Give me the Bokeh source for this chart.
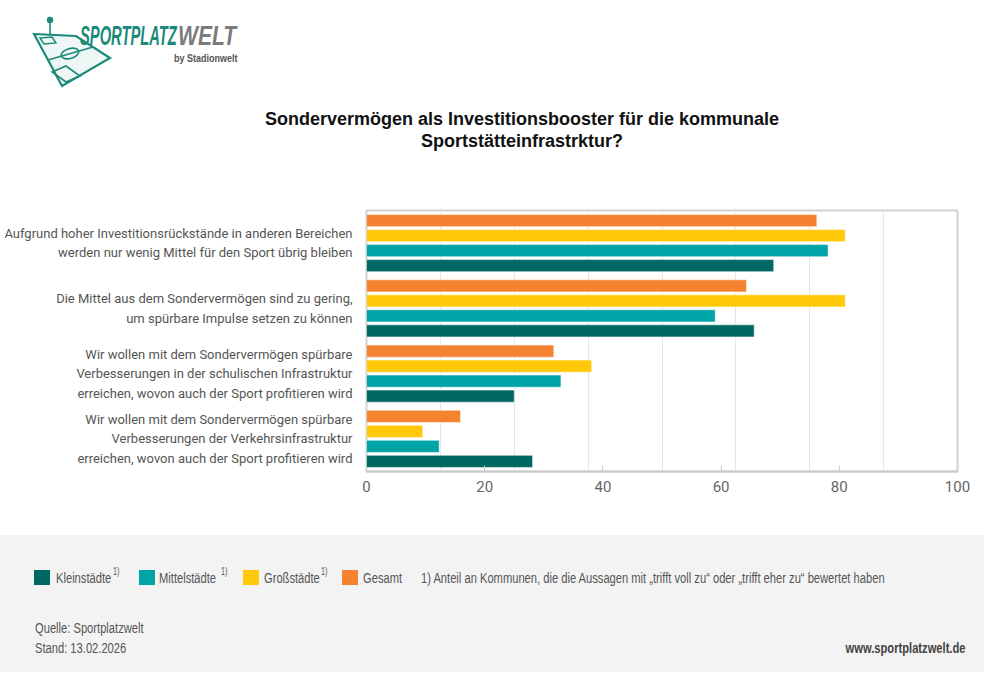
from bokeh.plotting import figure
from bokeh.models import Range1d, FixedTicker, ColumnDataSource, Div
from bokeh.layouts import column
from bokeh.transform import dodge
from bokeh.embed import file_html
from bokeh.resources import INLINE

# ---------------- data ----------------
categories = [
    "Aufgrund hoher Investitionsrückstände in anderen Bereichen\nwerden nur wenig Mittel für den Sport übrig bleiben",
    "Die Mittel aus dem Sondervermögen sind zu gering,\num spürbare Impulse setzen zu können",
    "Wir wollen mit dem Sondervermögen spürbare\nVerbesserungen in der schulischen Infrastruktur\nerreichen, wovon auch der Sport profitieren wird",
    "Wir wollen mit dem Sondervermögen spürbare\nVerbesserungen der Verkehrsinfrastruktur\nerreichen, wovon auch der Sport profitieren wird",
]
series_names = ["Kleinstädte", "Mittelstädte", "Großstädte", "Gesamt"]
series_note = ["1)", "1)", "1)", ""]
kleinstaedte = [68.9, 65.6, 25.0, 28.1]
mittelstaedte = [78.1, 59.0, 32.9, 12.3]
grossstaedte = [81.0, 81.0, 38.1, 9.5]
gesamt = [76.2, 64.3, 31.7, 15.9]
x_ticks = [0, 20, 40, 60, 80, 100]
grid_ticks = [12.5, 25, 37.5, 50, 62.5, 75, 87.5]

title_lines = ["Sondervermögen als Investitionsbooster für die kommunale", "Sportstätteinfrastrktur?"]
footnote = "1) Anteil an Kommunen, die die Aussagen mit \u201etrifft voll zu\u201c oder \u201etrifft eher zu\u201c bewertet haben"
source_text = "Quelle: Sportplatzwelt"
date_text = "Stand: 13.02.2026"
url_text = "www.sportplatzwelt.de"

# ---------------- styles ----------------
FONT = "Roboto"
COLORS = ["#006863", "#00A3A6", "#FFC809", "#F4822F"]
OFFSETS = [-0.345, -0.115, 0.115, 0.345]
BAR_H = 0.185
BAND = "#f3f3f3"
TXT = "#555555"
LOGO_TEAL = "#1b8a7a"
W = 984
HEADER_H = 170
CHART_H = 365
FOOTER_H = 137

n = len(categories)
group_y = [n - 0.5 - i for i in range(n)]
series_values = [kleinstaedte, mittelstaedte, grossstaedte, gesamt]

# ---------------- header (logo + title) ----------------
icon_svg = (
    '<svg width="120" height="100" style="position:absolute;left:0;top:0;overflow:visible">'
    f'<polygon points="34,34 76,36 110,58 62,86" fill="#eef7f5" stroke="{LOGO_TEAL}" stroke-width="2.2"/>'
    f'<line x1="48" y1="60" x2="93" y2="47" stroke="{LOGO_TEAL}" stroke-width="1.6"/>'
    f'<ellipse cx="70" cy="53.5" rx="9" ry="5" transform="rotate(-16 70 53.5)" fill="none" stroke="{LOGO_TEAL}" stroke-width="1.6"/>'
    f'<polygon points="52,72 66,66 80,76 66,82" fill="none" stroke="{LOGO_TEAL}" stroke-width="1.6"/>'
    f'<polygon points="40,38 52,37 56,43 44,44" fill="none" stroke="{LOGO_TEAL}" stroke-width="1.4"/>'
    f'<line x1="50" y1="22" x2="50" y2="35" stroke="{LOGO_TEAL}" stroke-width="1.6"/>'
    f'<circle cx="50" cy="20" r="3.2" fill="{LOGO_TEAL}"/>'
    '</svg>'
)
logo_font = "font-family:'Liberation Sans',Arial,sans-serif;font-weight:bold;font-style:italic;font-size:27px;line-height:24px;"
header_html = (
    f'<div style="position:relative;width:{W}px;height:{HEADER_H}px;background:white;">'
    + icon_svg
    + f'<span style="position:absolute;left:80px;top:24px;{logo_font}color:{LOGO_TEAL};'
      'display:inline-block;white-space:nowrap;transform:scaleX(0.545);transform-origin:left top;">SPORTPLATZ</span>'
    + f'<span style="position:absolute;left:178px;top:24px;{logo_font}color:#7b7b7b;'
      'display:inline-block;white-space:nowrap;transform:scaleX(0.78);transform-origin:left top;">WELT</span>'
    + '<span style="position:absolute;right:746px;top:53px;font-family:\'Liberation Sans\',Arial,sans-serif;'
      'font-weight:bold;font-size:10px;line-height:11px;color:#555;white-space:nowrap;display:inline-block;'
      'transform:scaleX(0.9);transform-origin:right top;">by Stadionwelt</span>'
    + '<div style="position:absolute;left:172px;top:108px;width:700px;text-align:center;'
      'font-family:\'Liberation Sans\',Arial,sans-serif;font-weight:bold;font-size:18px;line-height:22px;color:#111;">'
    + "<br>".join(title_lines)
    + '</div></div>'
)
header = Div(text=header_html, width=W, height=HEADER_H, margin=(0, 0, 0, 0))

# ---------------- chart ----------------
p = figure(width=W, height=CHART_H, x_range=Range1d(0, 100), y_range=Range1d(0, n),
           toolbar_location=None, output_backend="svg", margin=(0, 0, 0, 0),
           min_border_left=366, min_border_right=27, min_border_top=40, min_border_bottom=64)
p.background_fill_color = "white"
p.border_fill_color = "white"
p.outline_line_color = "#d2d2d2"
p.outline_line_width = 2

for vals, col, off in zip(series_values, COLORS, OFFSETS):
    src = ColumnDataSource(dict(y=group_y, value=vals))
    p.hbar(y=dodge("y", off, range=p.y_range), left=0, right="value", height=BAR_H, source=src,
           fill_color=col, line_color="white", line_alpha=0.5, line_width=1)

xa = p.xaxis[0]
xa.ticker = FixedTicker(ticks=x_ticks)
xa.axis_line_color = "#cccccc"
xa.axis_line_width = 2
xa.major_tick_in = 6
xa.major_tick_out = 0
xa.major_tick_line_color = "#cccccc"
xa.minor_tick_line_color = None
xa.major_label_text_font = FONT
xa.major_label_text_font_size = "15px"
xa.major_label_text_color = "#666666"
xa.major_label_standoff = 9

ya = p.yaxis[0]
ya.ticker = FixedTicker(ticks=group_y)
ya.major_label_overrides = {float(y): c for y, c in zip(group_y, categories)}
ya.axis_line_color = None
ya.major_tick_line_color = None
ya.minor_tick_line_color = None
ya.major_label_text_font = FONT
ya.major_label_text_font_size = "13px"
ya.major_label_text_color = TXT
ya.major_label_text_line_height = 1.3
ya.major_label_standoff = 8

p.ygrid.visible = False
p.xgrid.ticker = FixedTicker(ticks=grid_ticks)
p.xgrid.grid_line_color = "#e6e6e6"
p.xgrid.grid_line_width = 1

# ---------------- footer band (legend, notes) ----------------
OY = HEADER_H + CHART_H
LEG_SQ_X = [34, 138.5, 242.5, 342]
LEG_TXT_X = [55.7, 159.3, 264.3, 363.3]
LEG_SUP_X = [113, 221, 320.7, None]
LEG_Y = 577.5
narrow = ("font-family:'Liberation Sans',Arial,sans-serif;font-size:15.5px;line-height:18px;color:#555;"
          "white-space:nowrap;display:inline-block;transform:scaleX(0.72);transform-origin:left center;")

parts = [f'<div style="position:relative;width:{W}px;height:{FOOTER_H}px;background:{BAND};">']
for name, note, col, sqx, tx, supx in zip(series_names, series_note, COLORS, LEG_SQ_X, LEG_TXT_X, LEG_SUP_X):
    parts.append(f'<span style="position:absolute;left:{sqx}px;top:{LEG_Y - 7.5 - OY}px;width:16px;height:15px;background:{col};"></span>')
    parts.append(f'<span style="position:absolute;left:{tx}px;top:{LEG_Y - 9 - OY}px;{narrow}">{name}</span>')
    if supx is not None and note:
        parts.append(f'<span style="position:absolute;left:{supx}px;top:{LEG_Y - 11 - OY}px;{narrow}font-size:10px;line-height:10px;">{note}</span>')
parts.append(f'<span style="position:absolute;left:420.7px;top:{LEG_Y - 9 - OY}px;{narrow}">{footnote}</span>')
parts.append(f'<span style="position:absolute;left:35px;top:{628 - 9 - OY}px;{narrow}">{source_text}</span>')
parts.append(f'<span style="position:absolute;left:35px;top:{648 - 9 - OY}px;{narrow}">{date_text}</span>')
parts.append(f'<span style="position:absolute;right:{W - 965}px;top:{648 - 9 - OY}px;{narrow}'
             f'font-weight:bold;color:#444;transform-origin:right center;">{url_text}</span>')
parts.append('</div>')
footer = Div(text="".join(parts), width=W, height=FOOTER_H, margin=(0, 0, 0, 0))

layout = column(header, p, footer, spacing=0)
open("out.html", "w").write(file_html(layout, INLINE))
